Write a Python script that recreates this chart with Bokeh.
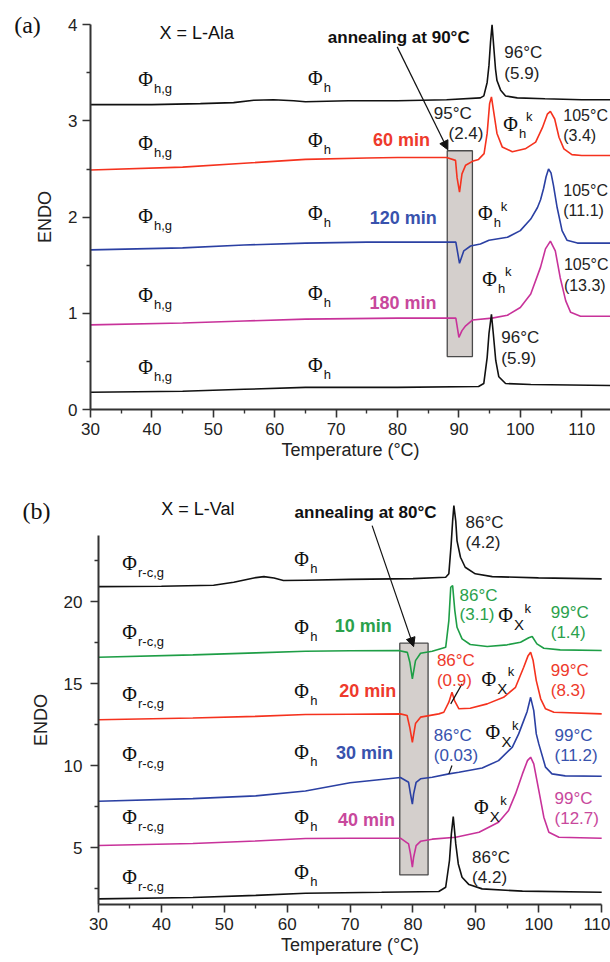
from bokeh.plotting import figure
from bokeh.layouts import column
from bokeh.models import Range1d, FixedTicker, Arrow, NormalHead, ColumnDataSource
from bokeh.core.properties import value
from bokeh.embed import file_html
from bokeh.resources import INLINE

# ---------------- data: panel (a) X = L-Ala ----------------
a1_t = [30, 40, 47.9, 53.3, 56.6, 59.8, 63.1, 65, 72, 80, 88, 93.5, 94.06, 94.6, 94.9, 95.15, 95.4, 95.7, 95.96, 96.2, 96.8, 97.6, 99.5, 104, 110, 114.7]
a1_y = [3.17, 3.17, 3.18, 3.19, 3.215, 3.22, 3.21, 3.20, 3.21, 3.21, 3.22, 3.24, 3.26, 3.40, 3.58, 3.82, 4.00, 3.75, 3.54, 3.42, 3.32, 3.26, 3.24, 3.23, 3.22, 3.22]

a2_t = [30, 45, 55, 65, 75, 80, 88, 89.45, 89.7, 90.1, 90.5, 91.1, 92.2, 93.2, 94.1, 94.6, 95.0, 95.3, 95.7, 96.2, 97.05, 98.7, 100.8, 102.5, 103.6, 104.4, 104.9, 105.6, 106.3, 107.1, 108.4, 110, 114.7]
a2_y = [2.49, 2.52, 2.56, 2.60, 2.615, 2.62, 2.62, 2.59, 2.41, 2.26, 2.45, 2.54, 2.58, 2.60, 2.66, 2.87, 3.18, 3.25, 3.08, 2.87, 2.73, 2.68, 2.71, 2.78, 2.93, 3.07, 3.10, 3.02, 2.83, 2.71, 2.65, 2.64, 2.64]

a3_t = [30, 45, 55, 65, 75, 85.4, 89.5, 90.1, 90.8, 91.9, 93.5, 94.9, 97.9, 100, 101.7, 102.8, 103.3, 103.8, 104.2, 104.6, 105.0, 105.4, 106.0, 106.8, 107.6, 109.3, 114.7]
a3_y = [1.66, 1.68, 1.71, 1.73, 1.74, 1.74, 1.74, 1.52, 1.65, 1.70, 1.72, 1.76, 1.79, 1.86, 1.98, 2.10, 2.18, 2.30, 2.42, 2.50, 2.46, 2.33, 2.10, 1.86, 1.76, 1.73, 1.73]

a4_t = [30, 45, 55, 65, 80, 89.5, 90.0, 90.5, 91.1, 92.2, 95.4, 97.9, 100, 101.7, 103.3, 104.1, 104.9, 105.7, 106.5, 107.4, 108.2, 109.8, 114.7]
a4_y = [0.88, 0.90, 0.92, 0.94, 0.95, 0.95, 0.75, 0.82, 0.87, 0.93, 0.95, 0.98, 1.06, 1.20, 1.48, 1.67, 1.75, 1.65, 1.37, 1.13, 1.01, 0.97, 0.97]

a5_t = [30, 45, 55, 65, 80, 93.2, 94.05, 94.6, 94.9, 95.3, 95.6, 96.0, 96.5, 97.6, 101.7, 114.7]
a5_y = [0.18, 0.19, 0.21, 0.23, 0.23, 0.24, 0.27, 0.54, 0.79, 0.99, 0.79, 0.51, 0.34, 0.27, 0.26, 0.25]

a_box = dict(left=88.1, right=92.2, bottom=0.55, top=2.69)
a_arrow = dict(x0=79.95, y0=3.77, x1=88.2, y1=2.70)

a_times = ["60 min", "120 min", "180 min"]
a_time_x = [80.65, 80.95, 80.9]
a_time_y = [2.80, 1.99, 1.11]

a_temp_text = ["96°C", "(5.9)", "95°C", "(2.4)", "96°C", "(5.9)"]
a_temp_x = [97.4, 97.4, 85.9, 88.3, 96.9, 96.9]
a_temp_y = [3.71, 3.49, 3.08, 2.87, 0.75, 0.53]

a_edge_text = ["105°C", "(3.4)", "105°C", "(11.1)", "105°C", "(13.3)"]
a_edge_x = [107.0, 107.0, 107.0, 107.0, 107.1, 107.1]
a_edge_y = [3.06, 2.85, 2.28, 2.07, 1.51, 1.29]

a_phg_x = [38.96] * 5
a_phg_y = [3.44, 2.77, 2.01, 1.19, 0.44]
a_ph_x = [66.6] * 5
a_ph_y = [3.45, 2.80, 2.04, 1.21, 0.46]
a_phk_x = [98.4, 94.3, 95.0]
a_phk_y = [2.97, 2.04, 1.36]

# ---------------- data: panel (b) X = L-Val ----------------
b1_t = [30, 40, 48.3, 51.5, 54.7, 56.3, 57.9, 59.4, 62.9, 70, 80, 85.2, 85.7, 86.07, 86.3, 86.5, 86.8, 87.0, 87.55, 88.3, 89.9, 92.6, 99.95, 110]
b1_y = [20.91, 20.93, 20.99, 21.18, 21.44, 21.52, 21.44, 21.28, 21.30, 21.35, 21.40, 21.48, 21.7, 23.5, 24.9, 25.85, 24.9, 23.7, 22.7, 22.09, 21.69, 21.52, 21.44, 21.38]

b2_t = [30, 45, 55, 62.9, 70, 77.7, 79.1, 79.5, 79.9, 80.4, 81.2, 83.05, 85.2, 85.7, 86.0, 86.3, 86.65, 87.0, 87.8, 89.1, 91.8, 94.97, 97.1, 98.4, 98.95, 99.7, 100.8, 103.4, 110]
b2_y = [16.6, 16.75, 16.87, 16.97, 17.0, 17.01, 16.9, 16.3, 15.29, 16.4, 16.85, 16.97, 17.21, 18.84, 20.87, 20.98, 19.45, 18.43, 17.72, 17.38, 17.26, 17.36, 17.52, 17.79, 17.87, 17.42, 17.15, 17.05, 17.01]

b3_t = [30, 45, 55, 62.9, 70, 78.0, 79.06, 79.5, 79.9, 80.4, 81.2, 84.1, 84.9, 85.7, 86.2, 86.6, 87.3, 89.1, 91.8, 94.4, 96.3, 97.6, 98.3, 98.7, 99.1, 99.6, 100.3, 101.07, 102.4, 110]
b3_y = [12.79, 12.9, 13.0, 13.11, 13.13, 13.15, 13.05, 12.3, 11.42, 12.56, 12.95, 13.15, 13.25, 13.86, 14.47, 13.96, 13.46, 13.49, 13.76, 14.16, 14.77, 15.99, 16.7, 16.91, 16.4, 15.18, 14.07, 13.46, 13.25, 13.15]

b4_t = [30, 45, 55, 62.9, 70, 78, 79.3, 79.6, 79.9, 80.1, 80.5, 81.2, 83.05, 85.7, 87.3, 91.0, 93.6, 95.8, 96.8, 97.6, 98.15, 98.7, 99.2, 99.6, 100.0, 101.07, 102.1, 104.2, 110]
b4_y = [7.82, 7.98, 8.15, 8.45, 8.95, 9.27, 8.98, 8.27, 7.65, 8.27, 8.98, 9.19, 9.29, 9.49, 9.59, 9.85, 10.3, 11.12, 11.93, 12.74, 13.3, 14.16, 13.35, 11.93, 11.32, 9.9, 9.49, 9.37, 9.35]

b5_t = [30, 45, 55, 62.9, 70, 78, 79.3, 79.6, 79.9, 80.1, 80.5, 81.2, 83.05, 86.8, 90.5, 93.6, 95.2, 96.3, 97.4, 98.2, 98.7, 99.2, 100.0, 100.8, 101.6, 103.2, 110]
b5_y = [5.12, 5.25, 5.4, 5.55, 5.57, 5.57, 5.22, 4.61, 3.80, 4.41, 5.12, 5.38, 5.51, 5.63, 5.93, 6.54, 7.26, 8.27, 9.49, 10.3, 10.51, 10.1, 8.48, 6.85, 5.93, 5.63, 5.57]

b6_t = [30, 45, 55, 62.9, 75, 84.1, 85.2, 85.8, 86.1, 86.4, 86.8, 87.2, 87.8, 88.9, 91.0, 97.4, 110]
b6_y = [1.87, 1.95, 2.08, 2.21, 2.27, 2.32, 2.58, 4.21, 5.83, 6.89, 5.22, 4.0, 3.19, 2.74, 2.48, 2.34, 2.27]

b_box = dict(left=77.9, right=82.4, bottom=3.33, top=17.46)
b_arrow = dict(x0=73.5, y0=24.63, x1=80.1, y1=17.25)

b_times = ["10 min", "20 min", "30 min", "40 min"]
b_time_x = [72.1, 72.8, 72.3, 72.6]
b_time_y = [18.5, 14.57, 10.79, 6.65]

b_temp_text = ["86°C", "(4.2)", "86°C", "(3.1)", "99°C", "(1.4)", "86°C", "(0.9)", "99°C", "(8.3)",
               "86°C", "(0.03)", "99°C", "(11.2)", "99°C", "(12.7)", "86°C", "(4.2)"]
b_temp_x = [88.35, 88.35, 87.4, 87.4, 101.9, 101.9, 83.8, 83.8, 101.9, 101.9,
            83.3, 83.3, 102.5, 102.5, 102.5, 102.5, 89.4, 89.4]
b_temp_y = [24.84, 23.62, 20.37, 19.2, 19.35, 18.13, 16.4, 15.18, 15.79, 14.57,
            11.83, 10.61, 11.83, 10.61, 7.97, 6.75, 4.41, 3.19]
b_temp_c = ["k", "k", "g", "g", "g", "g", "r", "r", "r", "r", "b", "b", "b", "b", "m", "m", "k", "k"]

b_lead = [(87.8, 14.98, 86.0, 13.76), (86.2, 10.0, 85.7, 9.49)]

b_prg_x = [34.93] * 6
b_prg_y = [22.32, 18.13, 14.37, 10.71, 6.85, 3.19]
b_ph_x = [62.3] * 6
b_ph_y = [22.6, 18.43, 14.57, 10.81, 6.85, 3.5]
b_pxk_x = [94.7, 92.05, 92.7, 90.86]
b_pxk_y = [19.15, 15.29, 12.03, 7.46]

# ---------------- styles ----------------
LINE = {"k": "#111111", "r": "#f5321e", "b": "#2b40a3", "m": "#c8329a", "g": "#1e9e46"}
LBL = {"k": "#222222", "r": "#ee3a2c", "b": "#3852ad", "m": "#c8489c", "g": "#2aa14c"}
SANS = "Liberation Sans"
SERIF = "Liberation Serif"


def style_axes(p, xticks, xminor, xbounds, xloc, yticks, yminor, ybounds, ystand):
    p.xgrid.visible = False
    p.ygrid.visible = False
    p.outline_line_color = None
    p.background_fill_color = "white"
    p.border_fill_color = "white"
    p.xaxis.ticker = FixedTicker(ticks=xticks, minor_ticks=xminor)
    p.yaxis.ticker = FixedTicker(ticks=yticks, minor_ticks=yminor)
    p.xaxis.bounds = xbounds
    p.yaxis.bounds = ybounds
    p.xaxis.fixed_location = xloc
    p.yaxis.fixed_location = 30
    for ax in (p.xaxis[0], p.yaxis[0]):
        ax.axis_line_width = 2
        ax.axis_line_color = "#333333"
        ax.major_tick_line_width = 1.6
        ax.major_tick_line_color = "#333333"
        ax.minor_tick_line_width = 1.4
        ax.minor_tick_line_color = "#333333"
        ax.major_tick_out = 8
        ax.major_tick_in = 0
        ax.minor_tick_out = 4
        ax.minor_tick_in = 0
        ax.major_label_text_font = SANS
        ax.major_label_text_font_size = "17px"
        ax.major_label_text_color = "#222222"
        ax.axis_label_text_font = SANS
        ax.axis_label_text_font_size = "18px"
        ax.axis_label_text_font_style = "normal"
        ax.axis_label_text_color = "#222222"
    p.xaxis.axis_label = "Temperature (°C)"
    p.yaxis.axis_label = "ENDO"
    p.xaxis.major_label_standoff = 5
    p.xaxis.axis_label_standoff = 2
    p.yaxis.major_label_standoff = ystand
    p.yaxis.axis_label_standoff = 10


def texts(p, xs, ys, txt, color, size, font=SANS, style="normal", align="left", baseline="middle", dx=0, dy=0):
    src = ColumnDataSource(dict(x=xs, y=ys, t=txt, c=color if isinstance(color, list) else [color] * len(xs)))
    p.text(x="x", y="y", text="t", source=src, text_color="c", text_font=value(font),
           text_font_size=size, text_font_style=style, text_align=align, text_baseline=baseline,
           x_offset=dx, y_offset=dy)


def phi(p, xs, ys, sub, sup=None, sub_size="13px", sub_dx=8.5, sup_dx=None):
    texts(p, xs, ys, ["Φ"] * len(xs), "#111111", "20px", font=SERIF, align="center")
    texts(p, xs, ys, [sub] * len(xs), "#111111", sub_size, align="left", baseline="alphabetic", dx=sub_dx, dy=9.5)
    if sup:
        texts(p, xs, ys, [sup] * len(xs), "#111111", "13px", align="left", baseline="alphabetic", dx=sup_dx, dy=-7)


# ---------------- panel (a) ----------------
pa = figure(width=610, height=470, x_range=Range1d(15.34, 114.69), y_range=Range1d(-0.634, 4.252),
            output_backend="svg", toolbar_location=None,
            min_border_left=0, min_border_right=0, min_border_top=0, min_border_bottom=0)
style_axes(pa, list(range(30, 111, 10)), list(range(35, 115, 10)), (30, 114.69), 0,
           [0, 1, 2, 3, 4], [0.5, 1.5, 2.5, 3.5], (0, 4), 5)

pa.quad(left=[a_box["left"]], right=[a_box["right"]], bottom=[a_box["bottom"]], top=[a_box["top"]],
        fill_color="#d4cfcc", line_color="#4a4a4a", line_width=1.3)
for t, y, c in [(a1_t, a1_y, "k"), (a2_t, a2_y, "r"), (a3_t, a3_y, "b"), (a4_t, a4_y, "m"), (a5_t, a5_y, "k")]:
    pa.line(t, y, line_color=LINE[c], line_width=1.6)

pa.add_layout(Arrow(end=NormalHead(size=9, fill_color="#111111", line_color="#111111"),
                    x_start=a_arrow["x0"], y_start=a_arrow["y0"], x_end=a_arrow["x1"], y_end=a_arrow["y1"],
                    line_color="#111111", line_width=1.2))

texts(pa, [19.74], [4.0], ["(a)"], "#111111", "24px", font=SERIF, align="center")
texts(pa, [47.3], [3.91], ["X = L-Ala"], "#111111", "18px", align="center")
texts(pa, [80.2], [3.87], ["annealing at 90°C"], "#111111", "17px", style="bold", align="center")
texts(pa, a_time_x, a_time_y, a_times, [LBL["r"], LBL["b"], LBL["m"]], "18px", style="bold", align="center")
texts(pa, a_temp_x, a_temp_y, a_temp_text, "#222222", "17px")
texts(pa, a_edge_x, a_edge_y, a_edge_text, "#222222", "16px")
phi(pa, a_phg_x, a_phg_y, "h,g")
phi(pa, a_ph_x, a_ph_y, "h")
phi(pa, a_phk_x, a_phk_y, "h", sup="k", sup_dx=15.5)

# ---------------- panel (b) ----------------
pb = figure(width=610, height=492, x_range=Range1d(14.42, 111.40), y_range=Range1d(-2.01, 27.99),
            output_backend="svg", toolbar_location=None,
            min_border_left=0, min_border_right=0, min_border_top=0, min_border_bottom=0)
style_axes(pb, list(range(30, 111, 10)), list(range(35, 110, 10)), (30, 110), 1.52,
           [5, 10, 15, 20], [2.5, 7.5, 12.5, 17.5, 22.5], (1.52, 24), 8)

pb.quad(left=[b_box["left"]], right=[b_box["right"]], bottom=[b_box["bottom"]], top=[b_box["top"]],
        fill_color="#d4cfcc", line_color="#4a4a4a", line_width=1.3)
for t, y, c in [(b1_t, b1_y, "k"), (b2_t, b2_y, "g"), (b3_t, b3_y, "r"), (b4_t, b4_y, "b"), (b5_t, b5_y, "m"), (b6_t, b6_y, "k")]:
    pb.line(t, y, line_color=LINE[c], line_width=1.6)
for x0, y0, x1, y1 in b_lead:
    pb.line([x0, x1], [y0, y1], line_color="#111111", line_width=1.2)

pb.add_layout(Arrow(end=NormalHead(size=9, fill_color="#111111", line_color="#111111"),
                    x_start=b_arrow["x0"], y_start=b_arrow["y0"], x_end=b_arrow["x1"], y_end=b_arrow["y1"],
                    line_color="#111111", line_width=1.2))

texts(pb, [20.14], [25.55], ["(b)"], "#111111", "24px", font=SERIF, align="center")
texts(pb, [45.8], [25.67], ["X = L-Val"], "#111111", "18px", align="center")
texts(pb, [72.45], [25.43], ["annealing at 80°C"], "#111111", "17px", style="bold", align="center")
texts(pb, b_time_x, b_time_y, b_times, [LBL["g"], LBL["r"], LBL["b"], LBL["m"]], "18px", style="bold", align="center")
texts(pb, b_temp_x, b_temp_y, b_temp_text, [LBL[c] for c in b_temp_c], "17px")
phi(pb, b_prg_x, b_prg_y, "r-c,g")
phi(pb, b_ph_x, b_ph_y, "h")
phi(pb, b_pxk_x, b_pxk_y, "X", sup="k", sub_size="15px", sub_dx=8.5, sup_dx=19)

layout = column(pa, pb)
open("out.html", "w").write(file_html(layout, INLINE))
